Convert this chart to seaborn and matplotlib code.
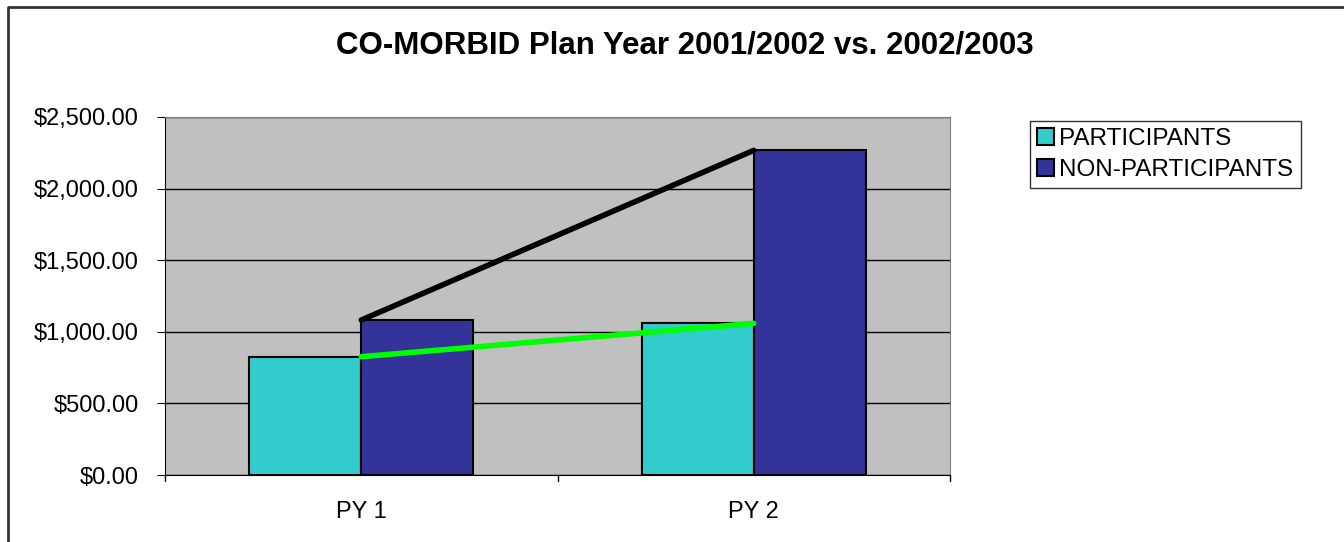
import numpy as np
import pandas as pd
import matplotlib
matplotlib.use("Agg")
import matplotlib.pyplot as plt
import seaborn as sns
from matplotlib.lines import Line2D

# data
years = ["PY 1", "PY 2"]
participants = [826, 1059]
non_participants = [1082, 2267]
series = ["PARTICIPANTS", "NON-PARTICIPANTS"]
colors = ["#33CCCC", "#333399"]

df = pd.DataFrame({
    "year": years * 2,
    "group": [series[0]] * 2 + [series[1]] * 2,
    "cost": participants + non_participants,
})

sns.set_style("white")
plt.rcParams["font.family"] = ["Liberation Sans", "DejaVu Sans"]
plt.rcParams["text.color"] = "black"
plt.rcParams["xtick.color"] = "black"
plt.rcParams["ytick.color"] = "black"

fig = plt.figure(figsize=(13.44, 5.42), dpi=100)
ax = fig.add_axes([165 / 1344, 1 - 475 / 542, 785 / 1344, 358 / 542])
ax.set_facecolor("#C0C0C0")

sns.barplot(data=df, x="year", y="cost", hue="group", palette=colors,
            width=0.57, edgecolor="black", linewidth=1.5, saturation=1, ax=ax)

# trend lines at category centres
xs = np.arange(len(years))
ax.plot(xs, non_participants, color="black", lw=4, solid_capstyle="round", zorder=5)
ax.plot(xs, participants, color="#00FF00", lw=4, solid_capstyle="round", zorder=5)

ax.set_xlim(-0.5, 1.5)
ax.set_ylim(0, 2500)
ax.set_yticks(np.arange(0, 2501, 500))
ax.set_yticklabels([f"${v:,.2f}" for v in np.arange(0, 2501, 500)])
ax.yaxis.grid(True, color="black", lw=1)
ax.set_axisbelow(True)
ax.set_xlabel("")
ax.set_ylabel("")
ax.tick_params(axis="both", labelsize=17, length=6, left=True, bottom=False)
ax.tick_params(axis="y", pad=13)
ax.tick_params(axis="x", pad=13)
for sp in ["top", "right"]:
    ax.spines[sp].set_color("#808080")
for sp in ["left", "bottom"]:
    ax.spines[sp].set_color("black")
# category separators on x axis
for xt in [-0.5, 0.5, 1.5]:
    ax.plot([xt, xt], [0, -0.017], transform=ax.get_xaxis_transform(),
            color="black", lw=1, clip_on=False)

handles, labels = ax.get_legend_handles_labels()
ax.legend(handles, labels, loc="upper left", bbox_to_anchor=(1030 / 1344, 1 - 121 / 542),
          bbox_transform=fig.transFigure, frameon=True, fancybox=False,
          edgecolor="black", fontsize=17.5, handlelength=0.7, handleheight=0.7,
          handletextpad=0.2, borderpad=0.3, labelspacing=0.35, borderaxespad=0)
ax.get_legend().get_frame().set_linewidth(1)

fig.text(685 / 1344, 1 - 45 / 542, "CO-MORBID Plan Year 2001/2002 vs. 2002/2003",
         ha="center", va="center", fontsize=22.5, fontweight="bold")

# chart area border (top and left visible, rest cropped)
fig.add_artist(Line2D([8 / 1344, 8 / 1344, 1], [0, 1 - 7 / 542, 1 - 7 / 542],
                      transform=fig.transFigure, color="#333333", lw=2))

fig.savefig("out.png", dpi=100)
